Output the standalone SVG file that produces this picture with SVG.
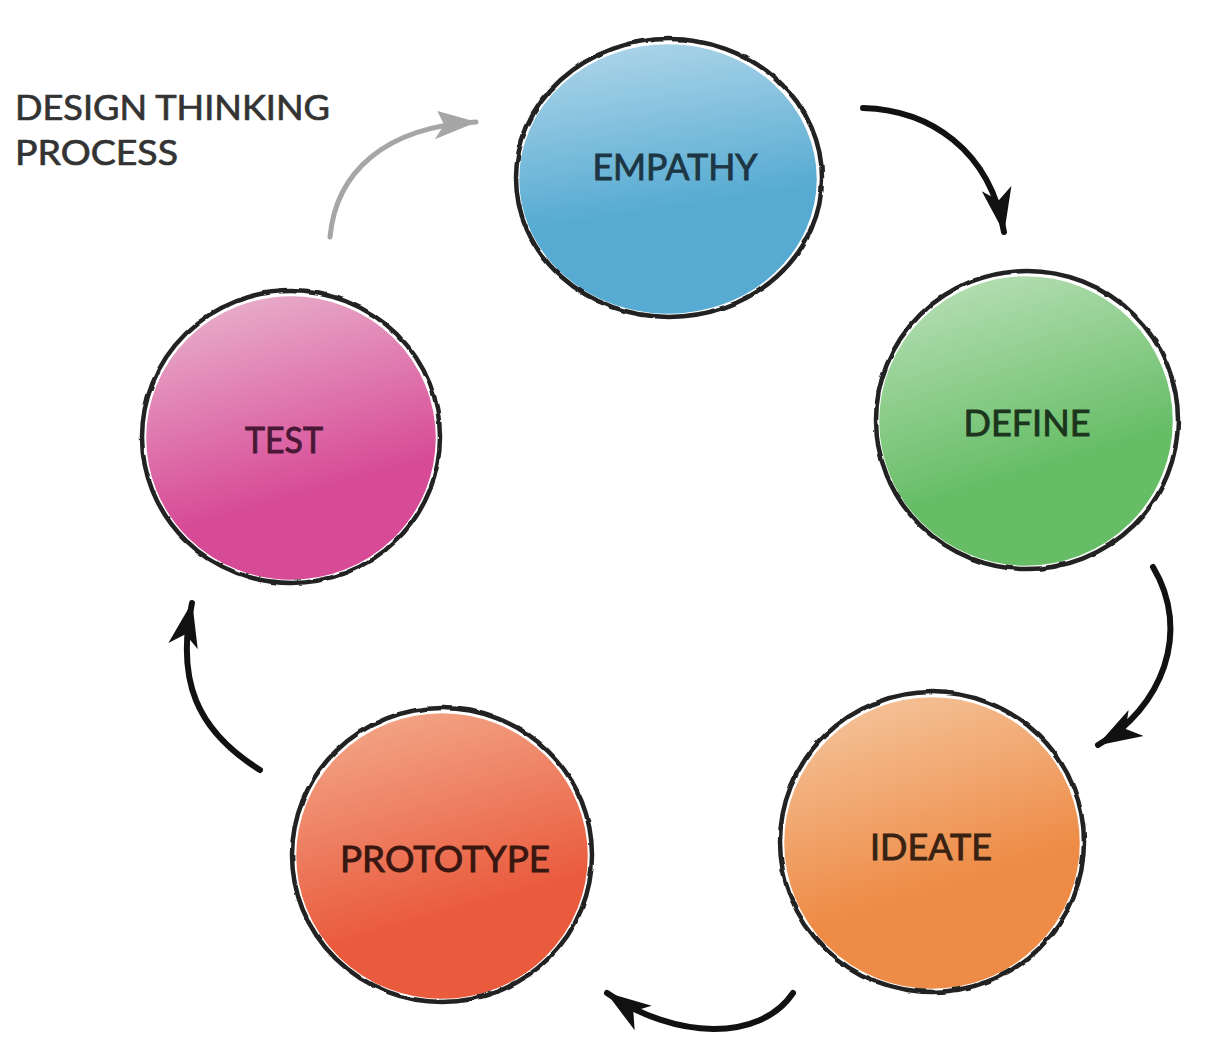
<svg xmlns="http://www.w3.org/2000/svg" width="1215" height="1042" viewBox="0 0 1215 1042">
  <defs>
    <linearGradient id="gBlue" x1="0.45" y1="0" x2="0.55" y2="0.6">
      <stop offset="0" stop-color="#a9d3e8"/>
      <stop offset="1" stop-color="#57abd2"/>
    </linearGradient>
    <linearGradient id="gGreen" x1="0.4" y1="0" x2="0.6" y2="0.65">
      <stop offset="0" stop-color="#b2ddb0"/>
      <stop offset="1" stop-color="#66bd66"/>
    </linearGradient>
    <linearGradient id="gPink" x1="0.35" y1="0" x2="0.55" y2="0.7">
      <stop offset="0" stop-color="#e8acca"/>
      <stop offset="1" stop-color="#d74a96"/>
    </linearGradient>
    <linearGradient id="gOrange" x1="0.35" y1="0" x2="0.55" y2="0.65">
      <stop offset="0" stop-color="#f4c196"/>
      <stop offset="1" stop-color="#ee8b46"/>
    </linearGradient>
    <linearGradient id="gRed" x1="0.35" y1="0" x2="0.55" y2="0.7">
      <stop offset="0" stop-color="#f2a485"/>
      <stop offset="1" stop-color="#ea5a3d"/>
    </linearGradient>
    <filter id="rough" x="-5%" y="-5%" width="110%" height="110%">
      <feTurbulence type="fractalNoise" baseFrequency="0.06" numOctaves="2" seed="3"/>
      <feDisplacementMap in="SourceGraphic" scale="3" xChannelSelector="R" yChannelSelector="G"/>
    </filter>
    <marker id="headBlack" markerUnits="userSpaceOnUse" markerWidth="46" markerHeight="34" viewBox="0 0 46 34" refX="44" refY="17" orient="auto">
      <path d="M0,2 L45,17 L0,32 L12,17 Z" fill="#111"/>
    </marker>
    <marker id="headGray" markerUnits="userSpaceOnUse" markerWidth="44" markerHeight="30" viewBox="0 0 44 30" refX="42" refY="13" orient="auto">
      <path d="M4,0 L43,13 L0,28 L10,14 Z" fill="#a6a6a6"/>
    </marker>
  </defs>
  <style>
    .ring { fill: none; stroke: #222; stroke-width: 4.5; }
    .inner { fill: none; stroke: #ffffff; stroke-width: 2.5; }
    .label { font-family: Lato, "Liberation Sans", sans-serif; font-size: 36px; text-anchor: middle; stroke-width: 0.9; }
    .title { font-family: Lato, "Liberation Sans", sans-serif; font-size: 35px; fill: #333333; stroke: #333333; stroke-width: 0.7; }
    .arrow { fill: none; stroke: #111; stroke-width: 6; stroke-linecap: round; }
  </style>
  <rect width="1215" height="1042" fill="#ffffff"/>

  <g id="title">
    <text class="title" x="15" y="120" textLength="315" lengthAdjust="spacingAndGlyphs">DESIGN THINKING</text>
    <text class="title" x="15" y="165" textLength="163" lengthAdjust="spacingAndGlyphs">PROCESS</text>
  </g>

  <g id="empathy">
    <ellipse cx="668" cy="179" rx="150" ry="136" fill="url(#gBlue)"/>
    <ellipse class="inner" cx="668" cy="179" rx="150" ry="136"/>
    <ellipse class="ring" cx="669" cy="178" rx="153" ry="139" filter="url(#rough)"/>
    <text class="label" x="675" y="180" fill="#1d3644" stroke="#1d3644" textLength="165" lengthAdjust="spacingAndGlyphs">EMPATHY</text>
  </g>

  <g id="define">
    <ellipse cx="1026" cy="421" rx="148" ry="146" fill="url(#gGreen)"/>
    <ellipse class="inner" cx="1026" cy="421" rx="148" ry="146"/>
    <ellipse class="ring" cx="1027" cy="420" rx="151" ry="149" filter="url(#rough)"/>
    <text class="label" x="1027" y="436" fill="#1c361d" stroke="#1c361d" textLength="127" lengthAdjust="spacingAndGlyphs">DEFINE</text>
  </g>

  <g id="test">
    <ellipse cx="291" cy="438" rx="146" ry="143" fill="url(#gPink)"/>
    <ellipse class="inner" cx="291" cy="438" rx="146" ry="143"/>
    <ellipse class="ring" cx="291" cy="437" rx="149" ry="146" filter="url(#rough)"/>
    <text class="label" x="284" y="453" fill="#4a1836" stroke="#4a1836" textLength="78" lengthAdjust="spacingAndGlyphs">TEST</text>
  </g>

  <g id="ideate">
    <ellipse cx="932" cy="843" rx="149" ry="147" fill="url(#gOrange)"/>
    <ellipse class="inner" cx="932" cy="843" rx="149" ry="147"/>
    <ellipse class="ring" cx="932" cy="842" rx="152" ry="150" filter="url(#rough)"/>
    <text class="label" x="931" y="860" fill="#3a2212" stroke="#3a2212" textLength="122" lengthAdjust="spacingAndGlyphs">IDEATE</text>
  </g>

  <g id="prototype">
    <ellipse cx="442" cy="856" rx="147" ry="144" fill="url(#gRed)"/>
    <ellipse class="inner" cx="442" cy="856" rx="147" ry="144"/>
    <ellipse class="ring" cx="442" cy="855" rx="150" ry="147" filter="url(#rough)"/>
    <text class="label" x="445" y="872" fill="#3a1610" stroke="#3a1610" textLength="210" lengthAdjust="spacingAndGlyphs">PROTOTYPE</text>
  </g>

  <g id="connectors">
    <path d="M330,237 C336,172 385,127 476,122" fill="none" stroke="#a6a6a6" stroke-width="5" stroke-linecap="round" marker-end="url(#headGray)"/>
    <path class="arrow" d="M863,108 C930,110 990,150 1004,232" marker-end="url(#headBlack)"/>
    <path class="arrow" d="M1153,567 C1192,632 1162,708 1098,745" marker-end="url(#headBlack)"/>
    <path class="arrow" d="M793,993 C760,1042 675,1040 607,993" marker-end="url(#headBlack)"/>
    <path class="arrow" d="M260,770 C196,730 176,680 192,603" marker-end="url(#headBlack)"/>
  </g>
</svg>
